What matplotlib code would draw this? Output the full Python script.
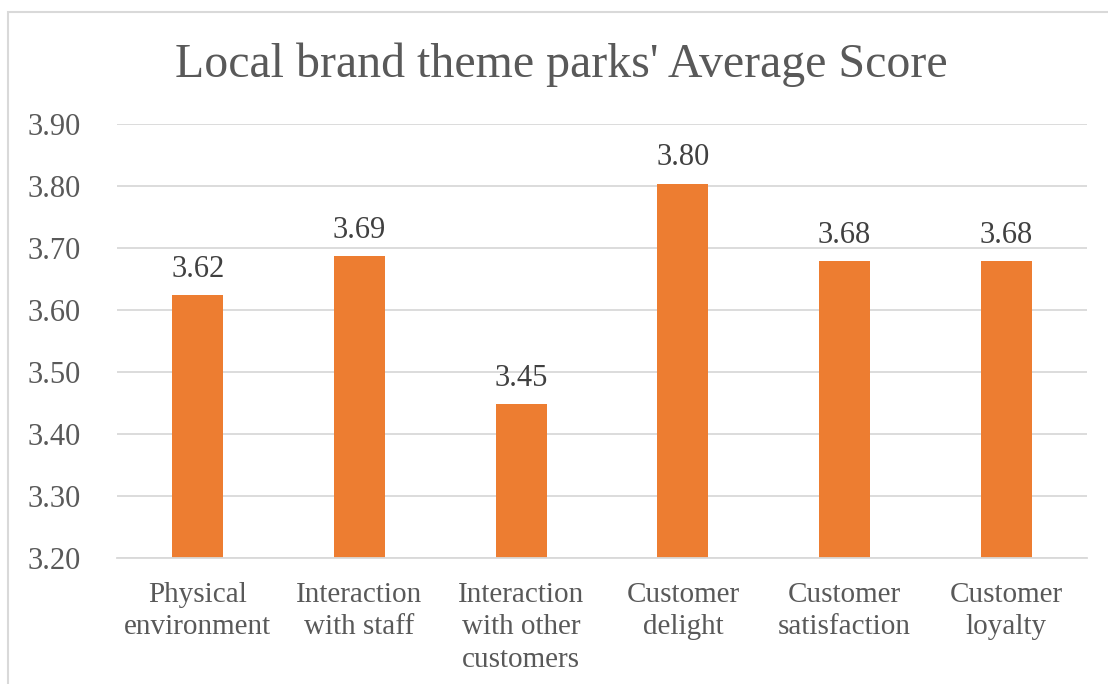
import numpy as np
import matplotlib.pyplot as plt
from matplotlib.patches import Rectangle

plt.rcParams['font.family'] = ['Liberation Serif', 'DejaVu Serif']

categories = ['Physical\nenvironment', 'Interaction\nwith staff', 'Interaction\nwith other\ncustomers',
              'Customer\ndelight', 'Customer\nsatisfaction', 'Customer\nloyalty']
scores = [3.624, 3.687, 3.448, 3.804, 3.679, 3.679]
yticks = [3.20, 3.30, 3.40, 3.50, 3.60, 3.70, 3.80, 3.90]

fig = plt.figure(figsize=(11.08, 6.84), dpi=100)
ax = fig.add_axes([0.1056, 0.1842, 0.8755, 0.6345])

x = np.arange(len(categories))
bars = ax.bar(x, scores, width=0.315, color='#ED7D31', zorder=3)

for xi, v in zip(x, scores):
    ax.annotate(f'{v:.2f}', (xi, v), xytext=(0, 13), textcoords='offset points',
                ha='center', va='baseline', fontsize=22, color='#404040')

ax.set_xlim(-0.5, len(categories) - 0.5)
ax.set_ylim(3.2, 3.9)
ax.set_yticks(yticks)
ax.set_yticklabels([f'{t:.2f}' for t in yticks])
ax.set_xticks(x)
ax.set_xticklabels(categories, linespacing=1.33)
ax.tick_params(axis='y', length=0, pad=26, labelsize=22, labelcolor='#595959')
ax.tick_params(axis='x', length=0, pad=17, labelsize=21, labelcolor='#595959')
ax.grid(axis='y', color='#D9D9D9', linewidth=1.3, zorder=0)
for s in ['top', 'right', 'left']:
    ax.spines[s].set_visible(False)
ax.spines['bottom'].set_color('#D9D9D9')
ax.spines['bottom'].set_linewidth(1.3)
ax.spines['bottom'].set_zorder(4)

fig.text(0.507, 0.906, "Local brand theme parks' Average Score", ha='center', va='center',
         fontsize=34.5, color='#595959')

# chart area border (Excel style)
fig.patches.append(Rectangle((0.0072, -0.1), 1.2, 1.0825, transform=fig.transFigure,
                             fill=False, edgecolor='#D9D9D9', linewidth=1.5))

fig.savefig('out.png', dpi=100)
